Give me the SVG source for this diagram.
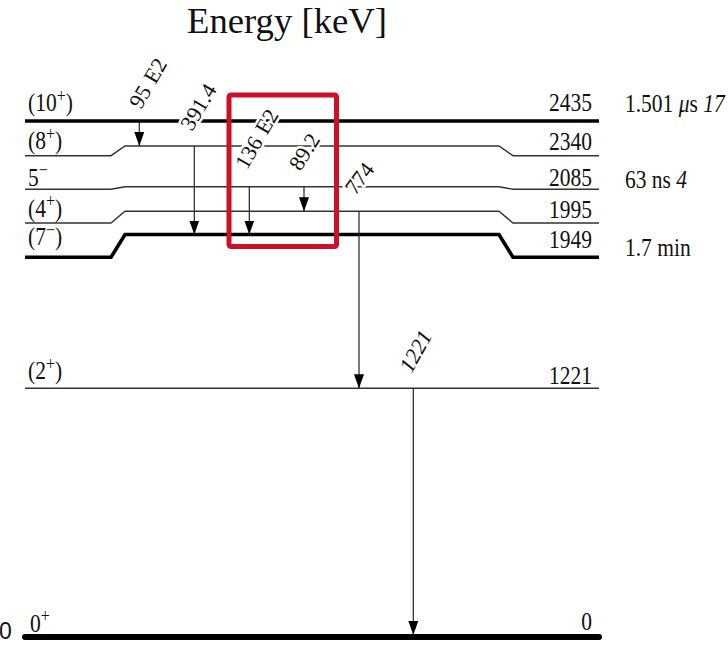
<svg xmlns="http://www.w3.org/2000/svg" width="728" height="645" viewBox="0 0 728 645">
<style>
.t{font-family:"Liberation Serif","DejaVu Serif","Times New Roman",serif;font-size:21.5px;fill:#111}
.r{font-family:"Liberation Serif","DejaVu Serif","Times New Roman",serif;font-size:22px;fill:#111;stroke:#fff;stroke-width:5px;paint-order:stroke;stroke-linejoin:round}
.thin{fill:none;stroke:#333;stroke-width:1.4}
.thick{fill:none;stroke:#000;stroke-width:3.6}
.arr{fill:none;stroke:#222;stroke-width:1.2;marker-end:url(#ah)}
.sup{font-size:16px}
.i{font-style:italic}
</style>
<defs>
<marker id="ah" viewBox="0 0 14 10" refX="14" refY="5" markerWidth="14" markerHeight="10" markerUnits="userSpaceOnUse" orient="auto">
<path d="M0,0 L14,5 L0,10 z" fill="#000"/>
</marker>
</defs>
<rect width="728" height="645" fill="#fff"/>
<text x="187" y="33" font-family="Liberation Serif, DejaVu Serif, serif" font-size="35" textLength="200" lengthAdjust="spacingAndGlyphs" fill="#111">Energy [keV]</text>

<g id="level-10">
<path class="thick" d="M25 121 L599 121"/>
<text class="t" transform="translate(28,111) scale(1,1.15)">(10<tspan class="sup" dy="-8">+</tspan><tspan dy="8">)</tspan></text>
<text class="t" text-anchor="end" transform="translate(592,111) scale(1,1.15)">2435</text>
<text class="t" transform="translate(625,112) scale(1,1.15)">1.501 <tspan class="i">μ</tspan>s <tspan class="i">17</tspan></text>
</g>
<g id="level-8">
<path class="thin" d="M25 155.7 L111 155.7 L125 146 L499 146 L513 155.7 L599 155.7"/>
<text class="t" transform="translate(28,149) scale(1,1.15)">(8<tspan class="sup" dy="-8">+</tspan><tspan dy="8">)</tspan></text>
<text class="t" text-anchor="end" transform="translate(592,150) scale(1,1.15)">2340</text>
</g>
<g id="level-5">
<path class="thin" d="M25 189.3 L111 189.3 L125 186.7 L499 186.7 L513 189.3 L599 189.3"/>
<text class="t" transform="translate(28,185.5) scale(1,1.15)">5<tspan class="sup" dy="-8">−</tspan></text>
<text class="t" text-anchor="end" transform="translate(592,185.5) scale(1,1.15)">2085</text>
<text class="t" transform="translate(625,188) scale(1,1.15)">63 ns <tspan class="i">4</tspan></text>
</g>
<g id="level-4">
<path class="thin" d="M25 223 L111 223 L125 211.3 L499 211.3 L513 223 L599 223"/>
<text class="t" transform="translate(28,216.5) scale(1,1.15)">(4<tspan class="sup" dy="-8">+</tspan><tspan dy="8">)</tspan></text>
<text class="t" text-anchor="end" transform="translate(592,217.5) scale(1,1.15)">1995</text>
</g>
<g id="level-7">
<path class="thick" d="M25 257.3 L111 257.3 L125 234.5 L499 234.5 L513 257.3 L599 257.3"/>
<text class="t" transform="translate(28,245) scale(1,1.15)">(7<tspan class="sup" dy="-8">−</tspan><tspan dy="8">)</tspan></text>
<text class="t" text-anchor="end" transform="translate(592,248) scale(1,1.15)">1949</text>
<text class="t" transform="translate(625,255.5) scale(1,1.15)">1.7 min</text>
</g>
<g id="level-2">
<path class="thin" d="M25 388.3 L599 388.3"/>
<text class="t" transform="translate(28,379) scale(1,1.15)">(2<tspan class="sup" dy="-8">+</tspan><tspan dy="8">)</tspan></text>
<text class="t" text-anchor="end" transform="translate(592,384) scale(1,1.15)">1221</text>
</g>
<g id="level-0">
<path d="M25 637 L599 637" fill="none" stroke="#000" stroke-width="6" stroke-linecap="round"/>
<text class="t" transform="translate(30,631.5) scale(1,1.15)">0<tspan class="sup" dy="-8">+</tspan></text>
<text class="t" text-anchor="end" transform="translate(592,630) scale(1,1.15)">0</text>
<text x="-1" y="639" font-family="Liberation Sans, sans-serif" font-size="23" fill="#111">0</text>
</g>

<g id="connectors">
<path class="arr" d="M139.3 121 L139.3 146"/>
<path class="arr" d="M194.3 146 L194.3 234.5"/>
<path class="arr" d="M249.3 186.7 L249.3 234.5"/>
<path class="arr" d="M304 186.7 L304 211.3"/>
<path class="arr" d="M359 211.3 L359 388.3"/>
<path class="arr" d="M413.3 388.3 L413.3 635"/>
</g>

<g id="labels">
<text class="r" transform="translate(141,110) rotate(-60)">95<tspan dx="7">E2</tspan></text>
<text class="r" transform="translate(192,132) rotate(-59)">391.4</text>
<text class="r" transform="translate(247,170.5) rotate(-60)">136<tspan dx="7">E2</tspan></text>
<text class="r" transform="translate(300.5,172) rotate(-58)">89.2</text>
<text class="r" transform="translate(355.5,196) rotate(-53)">774</text>
<text class="r i" transform="translate(411.5,374) rotate(-61)">1221</text>
</g>

<g id="highlight">
<rect x="229" y="95" width="107.5" height="151.5" rx="2" fill="none" stroke="#cc1029" stroke-width="5"/>
</g>
</svg>
